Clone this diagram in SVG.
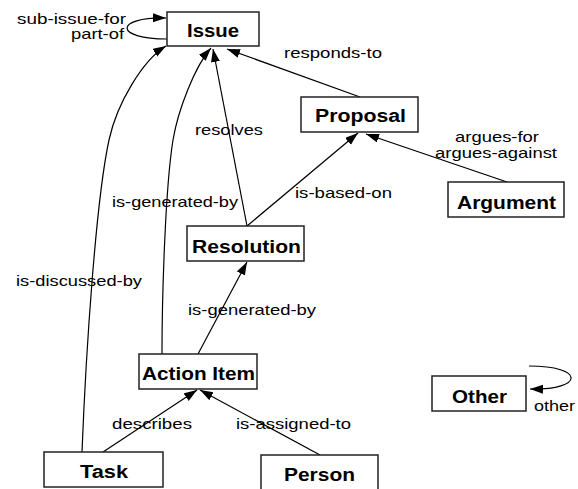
<svg xmlns="http://www.w3.org/2000/svg" width="578" height="489" viewBox="0 0 578 489">
<style>
.box{fill:#fff;stroke:#222;stroke-width:1.5}
.bl{font-family:"Liberation Sans",Arial,sans-serif;font-weight:bold;font-size:18px;fill:#000}
.lb{font-family:"Liberation Sans",Arial,sans-serif;font-size:15px;fill:#000}
.edge{fill:none;stroke:#000;stroke-width:1.2}
</style>
<defs>
<marker id="arr" markerUnits="userSpaceOnUse" markerWidth="14" markerHeight="10" refX="13" refY="4.5" orient="auto">
<path d="M0,0 L13,4.5 L0,9 z" fill="#000"/>
</marker>
</defs>
<g id="connectors">
<path class="edge" marker-end="url(#arr)" d="M167,39 C114,39 114,17 166,18"/>
<path class="edge" marker-end="url(#arr)" d="M360,97 L227,49"/>
<path class="edge" marker-end="url(#arr)" d="M247,226 L213,49"/>
<path class="edge" marker-end="url(#arr)" d="M247,226 L358,133"/>
<path class="edge" marker-end="url(#arr)" d="M507,182 L366,134"/>
<path class="edge" marker-end="url(#arr)" d="M198,354 L247,262"/>
<path class="edge" marker-end="url(#arr)" d="M162,354 C162,300 165,190 173,140 C178,110 195,66 211,48"/>
<path class="edge" marker-end="url(#arr)" d="M82,452 C86,350 96,200 109,140 C117,103 143,60 166,46"/>
<path class="edge" marker-end="url(#arr)" d="M103,452 L197,390"/>
<path class="edge" marker-end="url(#arr)" d="M320,455 L200,390"/>
<path class="edge" marker-end="url(#arr)" d="M529,366 C585,366 585,390 530,389"/>
<text class="lb" x="17" y="24" textLength="109" lengthAdjust="spacingAndGlyphs">sub-issue-for</text>
<text class="lb" x="71" y="39" textLength="53" lengthAdjust="spacingAndGlyphs">part-of</text>
<text class="lb" x="284" y="58" textLength="98" lengthAdjust="spacingAndGlyphs">responds-to</text>
<text class="lb" x="195" y="135" textLength="68" lengthAdjust="spacingAndGlyphs">resolves</text>
<text class="lb" x="455" y="142" textLength="84" lengthAdjust="spacingAndGlyphs">argues-for</text>
<text class="lb" x="435" y="158" textLength="122" lengthAdjust="spacingAndGlyphs">argues-against</text>
<text class="lb" x="295" y="198" textLength="97" lengthAdjust="spacingAndGlyphs">is-based-on</text>
<text class="lb" x="112" y="207" textLength="126" lengthAdjust="spacingAndGlyphs">is-generated-by</text>
<text class="lb" x="16" y="286" textLength="126" lengthAdjust="spacingAndGlyphs">is-discussed-by</text>
<text class="lb" x="188" y="315" textLength="128" lengthAdjust="spacingAndGlyphs">is-generated-by</text>
<text class="lb" x="112" y="429" textLength="80" lengthAdjust="spacingAndGlyphs">describes</text>
<text class="lb" x="236" y="429" textLength="115" lengthAdjust="spacingAndGlyphs">is-assigned-to</text>
<text class="lb" x="534" y="411" textLength="41" lengthAdjust="spacingAndGlyphs">other</text>
</g>
<g id="issue"><rect class="box" x="167" y="12" width="92" height="34"/><text class="bl" x="187" y="37" textLength="52" lengthAdjust="spacingAndGlyphs">Issue</text></g>
<g id="proposal"><rect class="box" x="301" y="97" width="117" height="35"/><text class="bl" x="315" y="122" textLength="91" lengthAdjust="spacingAndGlyphs">Proposal</text></g>
<g id="argument"><rect class="box" x="448" y="182" width="116" height="35"/><text class="bl" x="457" y="209" textLength="99" lengthAdjust="spacingAndGlyphs">Argument</text></g>
<g id="resolution"><rect class="box" x="187" y="226" width="117" height="35"/><text class="bl" x="192" y="253" textLength="109" lengthAdjust="spacingAndGlyphs">Resolution</text></g>
<g id="action-item"><rect class="box" x="139" y="354" width="118" height="35"/><text class="bl" x="142" y="380" textLength="113" lengthAdjust="spacingAndGlyphs">Action Item</text></g>
<g id="task"><rect class="box" x="44" y="452" width="119" height="35"/><text class="bl" x="80" y="478" textLength="48" lengthAdjust="spacingAndGlyphs">Task</text></g>
<g id="person"><rect class="box" x="261" y="455" width="117" height="36"/><text class="bl" x="284" y="481" textLength="71" lengthAdjust="spacingAndGlyphs">Person</text></g>
<g id="other"><rect class="box" x="432" y="376" width="94" height="35"/><text class="bl" x="452" y="403" textLength="55" lengthAdjust="spacingAndGlyphs">Other</text></g>
</svg>
